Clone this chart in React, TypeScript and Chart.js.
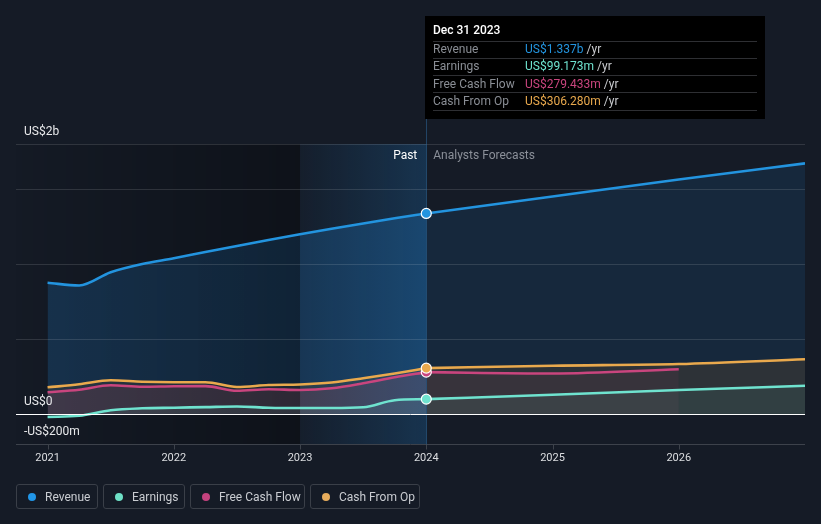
import { useEffect, useRef } from "react";
import { Chart, registerables } from "chart.js";
Chart.register(...registerables);

// ---- data (values in US$ billions) ----
const PAST_YEARS = [2021.0, 2021.25, 2021.5, 2021.75, 2022.0, 2022.25, 2022.5, 2022.75, 2023.0, 2023.25, 2023.5, 2023.75, 2024.0];
const REVENUE_PAST = [0.875, 0.857, 0.945, 1.0, 1.038, 1.08, 1.12, 1.16, 1.198, 1.235, 1.27, 1.305, 1.337];
const EARNINGS_PAST = [-0.02, -0.012, 0.025, 0.038, 0.042, 0.046, 0.05, 0.042, 0.04, 0.04, 0.045, 0.092, 0.099];
const FCF_PAST = [0.145, 0.162, 0.192, 0.182, 0.185, 0.186, 0.155, 0.165, 0.16, 0.172, 0.205, 0.245, 0.279];
const CFO_PAST = [0.178, 0.198, 0.225, 0.215, 0.212, 0.212, 0.18, 0.193, 0.197, 0.21, 0.238, 0.27, 0.306];

const FORECAST_YEARS = [2024, 2025, 2026, 2027];
const REVENUE_FORECAST = [1.337, 1.45, 1.563, 1.671];
const EARNINGS_FORECAST = [0.099, 0.128, 0.16, 0.188];
const CFO_FORECAST = [0.306, 0.322, 0.333, 0.365];
const FCF_FORECAST_YEARS = [2024, 2025, 2026];
const FCF_FORECAST = [0.279, 0.27, 0.298];

const X_TICKS = [2021, 2022, 2023, 2024, 2025, 2026];
const X_TICK_LABELS = ["2021", "2022", "2023", "2024", "2025", "2026"];
const Y_GRID = [0.5, 1.0, 1.5];
const Y_LABEL_VALUES = [1.8, 0, -0.2];
const Y_LABEL_TEXT = ["US$2b", "US$0", "-US$200m"];

const X_MIN = 2020.75;
const X_MAX = 2027;
const Y_MIN = -0.2;
const Y_MAX = 1.8;
const HIGHLIGHT_START = 2023;
const PRESENT = 2024;

const SERIES_NAMES = ["Revenue", "Earnings", "Free Cash Flow", "Cash From Op"];
const SERIES_COLORS = ["#2394df", "#6fe3cf", "#c9457e", "#e9a94d"];
const LEGEND_DOT_COLORS = ["#2196e8", "#6ee0c6", "#c4427e", "#e6ac5c"];
const TOOLTIP_TITLE = "Dec 31 2023";
const TOOLTIP_VALUES = ["US$1.337b", "US$99.173m", "US$279.433m", "US$306.280m"];

const FONT = "Roboto, 'Noto Sans', sans-serif";

const pts = (xs: number[], ys: number[]) => xs.map((x, i) => ({ x, y: ys[i] }));

const decorPlugin = {
  id: "decor",
  beforeDatasetsDraw(chart: any) {
    const { ctx, chartArea, scales } = chart;
    const xs = scales.x;
    const ys = scales.y;
    const top = ys.getPixelForValue(Y_MAX);
    const bottom = ys.getPixelForValue(Y_MIN);
    const xl = chartArea.left;
    const xr = chartArea.right;
    const xh = xs.getPixelForValue(HIGHLIGHT_START);
    const xp = xs.getPixelForValue(PRESENT);
    ctx.save();
    // past darkening
    let g = ctx.createLinearGradient(xl, 0, xh, 0);
    g.addColorStop(0, "rgba(0,0,0,0.02)");
    g.addColorStop(1, "rgba(0,0,0,0.32)");
    ctx.fillStyle = g;
    ctx.fillRect(xl, top, xh - xl, bottom - top);
    // highlight band
    g = ctx.createLinearGradient(xh, 0, xp, 0);
    g.addColorStop(0, "rgba(33,150,243,0.03)");
    g.addColorStop(1, "rgba(33,150,243,0.2)");
    ctx.fillStyle = g;
    ctx.fillRect(xh, top, xp - xh, bottom - top);
    // grid lines
    ctx.lineWidth = 1;
    ctx.strokeStyle = "rgba(255,255,255,0.12)";
    [...Y_GRID, Y_MAX].forEach((v) => {
      const y = Math.round(ys.getPixelForValue(v)) + 0.5;
      ctx.beginPath();
      ctx.moveTo(xl, y);
      ctx.lineTo(xr, y);
      ctx.stroke();
    });
    // bottom axis
    ctx.strokeStyle = "#3d424b";
    const by = Math.round(bottom) + 0.5;
    ctx.beginPath();
    ctx.moveTo(xl, by);
    ctx.lineTo(xr, by);
    ctx.stroke();
    X_TICKS.forEach((t) => {
      const x = Math.round(xs.getPixelForValue(t)) + 0.5;
      ctx.beginPath();
      ctx.moveTo(x, by);
      ctx.lineTo(x, by + 5);
      ctx.stroke();
    });
    // present vertical line
    ctx.strokeStyle = "rgba(50,120,180,0.45)";
    const vx = Math.round(xp) + 0.5;
    ctx.beginPath();
    ctx.moveTo(vx, 119);
    ctx.lineTo(vx, by);
    ctx.stroke();
    ctx.restore();
  },
  afterDatasetsDraw(chart: any) {
    const { ctx, chartArea, scales } = chart;
    const xs = scales.x;
    const ys = scales.y;
    const xl = chartArea.left;
    const xr = chartArea.right;
    const xp = xs.getPixelForValue(PRESENT);
    ctx.save();
    // zero line
    const zy = Math.round(ys.getPixelForValue(0)) + 0.5;
    ctx.strokeStyle = "#ffffff";
    ctx.lineWidth = 1;
    ctx.beginPath();
    ctx.moveTo(xl, zy);
    ctx.lineTo(xr, zy);
    ctx.stroke();
    // y labels
    ctx.font = `12px ${FONT}`;
    ctx.fillStyle = "#e8e9eb";
    ctx.textAlign = "left";
    ctx.textBaseline = "middle";
    Y_LABEL_VALUES.forEach((v, i) => {
      ctx.fillText(Y_LABEL_TEXT[i], xl + 8, ys.getPixelForValue(v) - 12);
    });
    // x labels
    ctx.font = `11px ${FONT}`;
    ctx.textAlign = "center";
    ctx.fillStyle = "#dcdee1";
    const by = ys.getPixelForValue(Y_MIN);
    X_TICKS.forEach((t, i) => {
      ctx.fillText(X_TICK_LABELS[i], xs.getPixelForValue(t), by + 14);
    });
    // past / forecast labels
    const ly = ys.getPixelForValue(Y_MAX) + 12;
    ctx.font = `12px ${FONT}`;
    ctx.textAlign = "right";
    ctx.fillStyle = "#ffffff";
    ctx.fillText("Past", xp - 9, ly);
    ctx.textAlign = "left";
    ctx.fillStyle = "#8b9099";
    ctx.fillText("Analysts Forecasts", xp + 7, ly);
    // tooltip
    const tx = Math.round(xp) - 1;
    const tw = 340;
    ctx.fillStyle = "#000000";
    ctx.fillRect(tx, 16, tw, 103);
    ctx.fillStyle = "#ffffff";
    ctx.font = `500 12px ${FONT}`;
    ctx.fillText(TOOLTIP_TITLE, tx + 8, 31);
    ctx.strokeStyle = "#2e2f33";
    const sepYs = [41.5, 58.5, 75.5, 92.5, 110.5];
    sepYs.forEach((y) => {
      ctx.beginPath();
      ctx.moveTo(tx + 8, y);
      ctx.lineTo(tx + tw - 8, y);
      ctx.stroke();
    });
    ctx.font = `12px ${FONT}`;
    SERIES_NAMES.forEach((name, i) => {
      const y = 50 + i * 17.3;
      ctx.fillStyle = "#8a8e95";
      ctx.fillText(name, tx + 8, y);
      ctx.fillStyle = SERIES_COLORS[i];
      ctx.fillText(TOOLTIP_VALUES[i], tx + 100, y);
      const w = ctx.measureText(TOOLTIP_VALUES[i]).width;
      ctx.fillStyle = "#c9cbcf";
      ctx.fillText(" /yr", tx + 100 + w, y);
    });
    ctx.restore();
  },
};

function lineDs(data: any[], color: string, fillColor: string, withPoint: boolean) {
  return {
    data,
    borderColor: color,
    backgroundColor: fillColor,
    borderWidth: 2.6,
    fill: "origin",
    cubicInterpolationMode: "monotone",
    pointRadius: (c: any) => (withPoint && c.raw && c.raw.x === PRESENT ? 5 : 0),
    pointBackgroundColor: color,
    pointBorderColor: "#ffffff",
    pointBorderWidth: 1.2,
    pointHoverRadius: 0,
  };
}

export default function App() {
  const ref = useRef<HTMLCanvasElement | null>(null);
  useEffect(() => {
    if (!ref.current) return;
    const [cRev, cEarn, cFcf, cCfo] = SERIES_COLORS;
    const chart = new Chart(ref.current, {
      type: "line",
      data: {
        datasets: [
          lineDs(pts(PAST_YEARS, EARNINGS_PAST), cEarn, "rgba(110,224,200,0.10)", true),
          lineDs(pts(FORECAST_YEARS, EARNINGS_FORECAST), cEarn, "rgba(110,224,200,0.08)", false),
          lineDs(pts(PAST_YEARS, CFO_PAST), cCfo, "rgba(110,80,40,0.22)", true),
          lineDs(pts(FORECAST_YEARS, CFO_FORECAST), cCfo, "rgba(110,80,40,0.25)", false),
          lineDs(pts(PAST_YEARS, FCF_PAST), cFcf, "rgba(201,69,126,0.18)", true),
          lineDs(pts(FCF_FORECAST_YEARS, FCF_FORECAST), cFcf, "rgba(201,69,126,0.09)", false),
          lineDs(pts(PAST_YEARS, REVENUE_PAST), cRev, "rgba(33,150,243,0.2)", true),
          lineDs(pts(FORECAST_YEARS, REVENUE_FORECAST), cRev, "rgba(33,150,243,0.11)", false),
        ] as any,
      },
      options: {
        responsive: false,
        animation: false,
        devicePixelRatio: 1,
        layout: { padding: { left: 16, right: 16, top: 144, bottom: 80 } },
        scales: {
          x: { type: "linear", min: X_MIN, max: X_MAX, display: false },
          y: { type: "linear", min: Y_MIN, max: Y_MAX, display: false },
        },
        plugins: {
          legend: { display: false },
          tooltip: { enabled: false },
          filler: { drawTime: "beforeDatasetsDraw" } as any,
        },
        events: [],
      } as any,
      plugins: [decorPlugin],
    });
    return () => chart.destroy();
  }, []);

  const legendWidths = [82, 82, 115, 110];
  return (
    <div
      style={{
        position: "absolute",
        left: 0,
        top: 0,
        width: 821,
        height: 524,
        background: "#151b26",
        overflow: "hidden",
        fontFamily: FONT,
      }}
    >
      <canvas ref={ref} width={821} height={524} style={{ position: "absolute", left: 0, top: 0 }} />
      <div style={{ position: "absolute", left: 16, top: 484, display: "flex", gap: 5 }}>
        {SERIES_NAMES.map((name, i) => (
          <div
            key={name}
            style={{
              width: legendWidths[i],
              height: 25,
              boxSizing: "border-box",
              border: "1px solid #3a3f48",
              borderRadius: 3,
              display: "flex",
              alignItems: "center",
              paddingLeft: 11,
              fontSize: 12,
              color: "#c9ccd1",
            }}
          >
            <span
              style={{
                width: 8,
                height: 8,
                borderRadius: "50%",
                background: LEGEND_DOT_COLORS[i],
                marginRight: 9,
                flex: "none",
              }}
            />
            {name}
          </div>
        ))}
      </div>
    </div>
  );
}
